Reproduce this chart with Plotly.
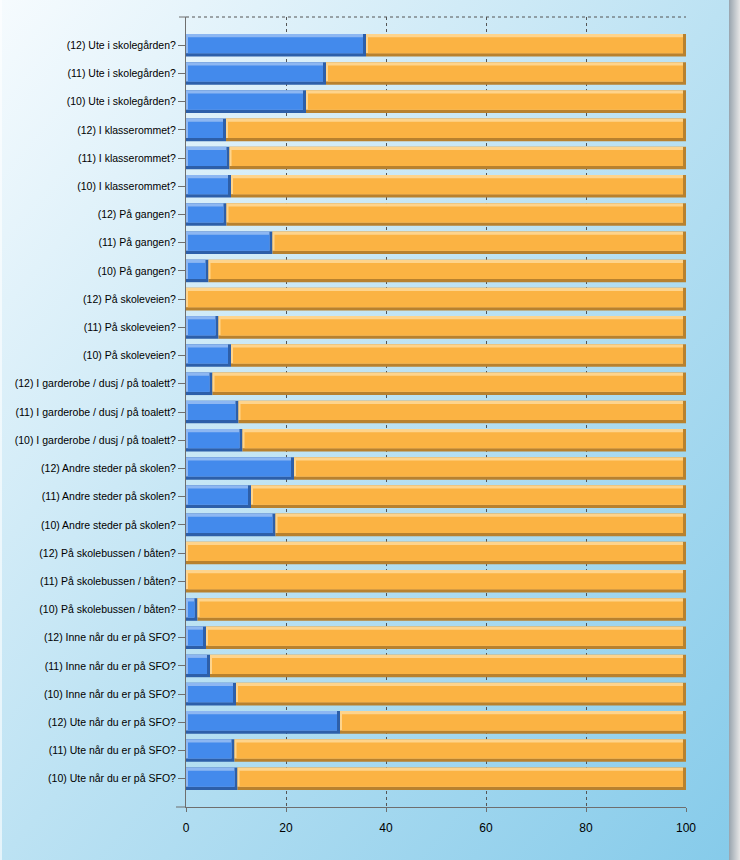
import base64
import numpy as np
import plotly.graph_objects as go

# Categories listed top to bottom, as in the chart
labels = [
    "(12) Ute i skolegården?",
    "(11) Ute i skolegården?",
    "(10) Ute i skolegården?",
    "(12) I klasserommet?",
    "(11) I klasserommet?",
    "(10) I klasserommet?",
    "(12) På gangen?",
    "(11) På gangen?",
    "(10) På gangen?",
    "(12) På skoleveien?",
    "(11) På skoleveien?",
    "(10) På skoleveien?",
    "(12) I garderobe / dusj / på toalett?",
    "(11) I garderobe / dusj / på toalett?",
    "(10) I garderobe / dusj / på toalett?",
    "(12) Andre steder på skolen?",
    "(11) Andre steder på skolen?",
    "(10) Andre steder på skolen?",
    "(12) På skolebussen / båten?",
    "(11) På skolebussen / båten?",
    "(10) På skolebussen / båten?",
    "(12) Inne når du er på SFO?",
    "(11) Inne når du er på SFO?",
    "(10) Inne når du er på SFO?",
    "(12) Ute når du er på SFO?",
    "(11) Ute når du er på SFO?",
    "(10) Ute når du er på SFO?",
]
blue_values = [36, 28, 24, 8, 8.7, 9, 8.1, 17.3, 4.5, 0, 6.5, 9,
               5.3, 10.5, 11.3, 21.6, 13, 17.9, 0, 0, 2.3,
               4, 4.8, 10, 30.8, 9.7, 10.3]
orange_values = [100 - v for v in blue_values]
x_ticks = [0, 20, 40, 60, 80, 100]

blue = np.array(blue_values, dtype=float)
orange = np.array(orange_values, dtype=float)

W = 0.8      # bar thickness (category units)
H = 0.115    # bevel strip thickness vertical
DL = 0.4     # left highlight width (x units)
DR = 0.6     # right shadow width (x units)

fig = go.Figure()


def bevel_bar(start, length, face, light, dark):
    start = np.asarray(start, float)
    length = np.asarray(length, float)
    common = dict(y=labels, orientation="h", showlegend=False, hoverinfo="skip",
                  marker_line_width=0)
    # dark (bottom / right)
    fig.add_trace(go.Bar(x=length, base=start, width=W, offset=-W / 2,
                         marker_color=dark, **common))
    # light (top / left)
    fig.add_trace(go.Bar(x=np.maximum(length - DR, 0), base=start, width=W - H,
                         offset=-W / 2 + H, marker_color=light, **common))
    # face
    fig.add_trace(go.Bar(x=np.maximum(length - DL - DR, 0), base=start + DL,
                         width=W - 2 * H, offset=-W / 2 + H,
                         marker_color=face, **common))


bevel_bar(np.zeros_like(blue), blue, "#438aec", "#8db7f2", "#2d5fa9")
bevel_bar(blue, orange, "#fbb343", "#fed48c", "#b8812e")

# background gradient as SVG image
svg = """<svg xmlns='http://www.w3.org/2000/svg' width='740' height='860' preserveAspectRatio='none'>
<defs>
<linearGradient id='g' x1='0' y1='0' x2='1' y2='1'>
<stop offset='0' stop-color='#f6fbfe'/>
<stop offset='0.5' stop-color='#bce2f3'/>
<stop offset='1' stop-color='#86cbea'/>
</linearGradient>
<linearGradient id='s' x1='0' y1='0' x2='1' y2='0'>
<stop offset='0' stop-color='#98a4ae'/>
<stop offset='1' stop-color='#e6e6e6'/>
</linearGradient>
</defs>
<rect width='740' height='860' fill='#ffffff'/>
<rect x='0' y='0' width='729' height='860' fill='url(#g)'/>
<rect x='0' y='0' width='2' height='860' fill='#ffffff' opacity='0.6'/>
<rect x='729' y='0' width='11' height='860' fill='url(#s)'/>
</svg>"""
src = "data:image/svg+xml;base64," + base64.b64encode(svg.encode()).decode()

L, R, T, B = 186, 54, 17, 53
PW, PH = 740 - L - R, 860 - T - B

fig.update_layout(
    width=740, height=860,
    margin=dict(l=L, r=R, t=T, b=B, pad=0),
    barmode="overlay",
    paper_bgcolor="white",
    plot_bgcolor="rgba(0,0,0,0)",
    font=dict(family="Liberation Sans, Arial, sans-serif", color="#000000"),
    images=[dict(source=src, xref="paper", yref="paper",
                 x=-L / PW, y=1 + T / PH, sizex=740 / PW, sizey=860 / PH,
                 xanchor="left", yanchor="top", sizing="stretch", layer="below")],
    xaxis=dict(range=[0, 100], tickvals=x_ticks, ticktext=[str(v) for v in x_ticks],
               showgrid=True, gridcolor="#555555", griddash="dot", gridwidth=1,
               zeroline=False, showline=True, linecolor="#6e6e6e", linewidth=1,
               ticks="outside", ticklen=4, tickcolor="#6e6e6e",
               ticklabelstandoff=6,
               tickfont=dict(size=12, color="#000000"), fixedrange=True),
    yaxis=dict(type="category", categoryorder="array",
               categoryarray=list(reversed(labels)), range=[-1, 27],
               showgrid=False, zeroline=False, showline=True,
               linecolor="#6e6e6e", linewidth=1,
               ticks="outside", ticklen=7, tickcolor="#6e6e6e",
               tickfont=dict(size=10.5, color="#000000"), fixedrange=True),
    shapes=[
        dict(type="line", xref="paper", yref="paper", x0=0, x1=1, y0=1, y1=1,
             line=dict(color="#555555", width=1, dash="dot")),
        dict(type="line", xref="paper", yref="paper", x0=-7 / PW, x1=0, y0=1, y1=1,
             line=dict(color="#6e6e6e", width=1)),
        dict(type="line", xref="paper", yref="paper", x0=-10 / PW, x1=0, y0=0, y1=0,
             line=dict(color="#6e6e6e", width=1)),
    ],
)

fig.write_html("out.html", config={"displayModeBar": False},
               post_script="document.body.style.margin='0';")
